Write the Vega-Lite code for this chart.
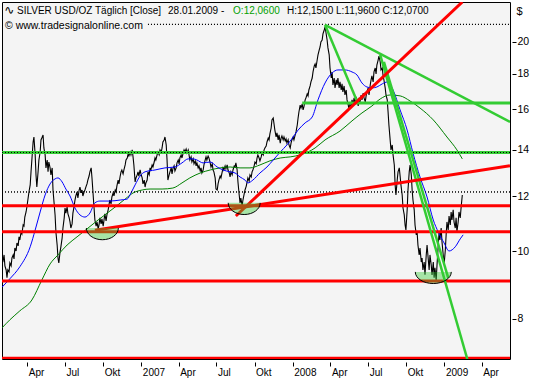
{
"$schema": "https://vega.github.io/schema/vega-lite/v6.json",
"width": 508,
"height": 357,
"autosize": "none",
"padding": {"left": 2, "top": 2, "right": 23, "bottom": 21},
"background": "white",
"config": {
  "view": {"fill": "#f4f4f4", "stroke": "black", "strokeWidth": 1},
  "font": "Liberation Sans"
},
"datasets": {
"price": [
{"d":"2006-01-30","v":9.78},{"d":"2006-02-01","v":9.65},{"d":"2006-02-04","v":9.88},{"d":"2006-02-06","v":9.53},{"d":"2006-02-09","v":9.40},{"d":"2006-02-11","v":9.16},{"d":"2006-02-13","v":9.40},{"d":"2006-02-16","v":9.34},{"d":"2006-02-18","v":9.62},{"d":"2006-02-21","v":9.53},{"d":"2006-02-23","v":9.78},{"d":"2006-02-26","v":9.88},{"d":"2006-02-28","v":9.75},{"d":"2006-03-02","v":10.11},{"d":"2006-03-05","v":10.01},{"d":"2006-03-07","v":10.28},{"d":"2006-03-10","v":10.18},{"d":"2006-03-12","v":10.49},{"d":"2006-03-14","v":10.38},{"d":"2006-03-17","v":10.66},{"d":"2006-03-19","v":10.59},{"d":"2006-03-22","v":10.91},{"d":"2006-03-24","v":10.87},{"d":"2006-03-26","v":11.20},{"d":"2006-03-29","v":11.39},{"d":"2006-03-31","v":11.58},{"d":"2006-04-03","v":11.93},{"d":"2006-04-05","v":12.17},{"d":"2006-04-08","v":12.46},{"d":"2006-04-10","v":13.01},{"d":"2006-04-12","v":13.53},{"d":"2006-04-15","v":14.36},{"d":"2006-04-17","v":14.60},{"d":"2006-04-20","v":13.76},{"d":"2006-04-22","v":12.88},{"d":"2006-04-24","v":12.37},{"d":"2006-04-27","v":13.01},{"d":"2006-04-29","v":13.53},{"d":"2006-05-02","v":13.89},{"d":"2006-05-04","v":14.46},{"d":"2006-05-06","v":14.55},{"d":"2006-05-09","v":14.70},{"d":"2006-05-11","v":14.08},{"d":"2006-05-14","v":13.76},{"d":"2006-05-16","v":13.18},{"d":"2006-05-19","v":13.53},{"d":"2006-05-21","v":13.01},{"d":"2006-05-23","v":13.44},{"d":"2006-05-26","v":13.18},{"d":"2006-05-28","v":12.88},{"d":"2006-05-31","v":13.18},{"d":"2006-06-02","v":12.25},{"d":"2006-06-04","v":11.85},{"d":"2006-06-07","v":11.28},{"d":"2006-06-09","v":10.66},{"d":"2006-06-12","v":10.21},{"d":"2006-06-14","v":9.78},{"d":"2006-06-16","v":9.62},{"d":"2006-06-19","v":9.98},{"d":"2006-06-21","v":10.15},{"d":"2006-06-24","v":10.45},{"d":"2006-06-26","v":10.80},{"d":"2006-06-29","v":11.17},{"d":"2006-07-01","v":11.54},{"d":"2006-07-03","v":11.35},{"d":"2006-07-06","v":11.58},{"d":"2006-07-08","v":11.32},{"d":"2006-07-11","v":11.17},{"d":"2006-07-13","v":11.02},{"d":"2006-07-15","v":10.80},{"d":"2006-07-18","v":10.95},{"d":"2006-07-20","v":11.35},{"d":"2006-07-23","v":11.62},{"d":"2006-07-25","v":11.85},{"d":"2006-07-27","v":12.01},{"d":"2006-07-30","v":12.17},{"d":"2006-08-01","v":11.93},{"d":"2006-08-04","v":12.25},{"d":"2006-08-06","v":12.37},{"d":"2006-08-09","v":12.13},{"d":"2006-08-11","v":12.25},{"d":"2006-08-13","v":12.01},{"d":"2006-08-16","v":12.17},{"d":"2006-08-18","v":12.25},{"d":"2006-08-21","v":12.41},{"d":"2006-08-23","v":12.50},{"d":"2006-08-25","v":12.66},{"d":"2006-08-28","v":12.83},{"d":"2006-08-30","v":13.01},{"d":"2006-09-02","v":13.18},{"d":"2006-09-04","v":12.75},{"d":"2006-09-06","v":12.25},{"d":"2006-09-09","v":11.54},{"d":"2006-09-11","v":11.09},{"d":"2006-09-14","v":10.87},{"d":"2006-09-16","v":11.02},{"d":"2006-09-19","v":10.77},{"d":"2006-09-21","v":10.91},{"d":"2006-09-23","v":11.17},
{"d":"2006-09-26","v":10.95},{"d":"2006-09-28","v":11.13},{"d":"2006-10-01","v":10.87},{"d":"2006-10-03","v":11.09},{"d":"2006-10-05","v":11.32},{"d":"2006-10-08","v":11.06},{"d":"2006-10-10","v":11.28},{"d":"2006-10-13","v":11.47},{"d":"2006-10-15","v":11.66},{"d":"2006-10-17","v":11.85},{"d":"2006-10-20","v":11.70},{"d":"2006-10-22","v":11.97},{"d":"2006-10-25","v":12.13},{"d":"2006-10-27","v":12.01},{"d":"2006-10-30","v":12.25},{"d":"2006-11-01","v":12.17},{"d":"2006-11-03","v":12.41},{"d":"2006-11-06","v":12.66},{"d":"2006-11-08","v":12.50},{"d":"2006-11-11","v":12.83},{"d":"2006-11-13","v":13.01},{"d":"2006-11-15","v":13.09},{"d":"2006-11-18","v":12.92},{"d":"2006-11-20","v":13.09},{"d":"2006-11-23","v":13.31},{"d":"2006-11-25","v":13.53},{"d":"2006-11-28","v":13.62},{"d":"2006-11-30","v":13.80},{"d":"2006-12-02","v":13.71},{"d":"2006-12-05","v":13.89},{"d":"2006-12-07","v":13.76},{"d":"2006-12-10","v":13.99},{"d":"2006-12-12","v":13.67},{"d":"2006-12-14","v":13.31},{"d":"2006-12-17","v":12.58},{"d":"2006-12-19","v":12.75},{"d":"2006-12-22","v":12.88},{"d":"2006-12-24","v":13.01},{"d":"2006-12-26","v":12.83},{"d":"2006-12-29","v":13.09},{"d":"2006-12-31","v":12.92},{"d":"2007-01-03","v":12.75},{"d":"2007-01-05","v":12.50},{"d":"2007-01-08","v":12.66},{"d":"2007-01-10","v":12.37},{"d":"2007-01-12","v":12.54},{"d":"2007-01-15","v":12.66},{"d":"2007-01-17","v":13.01},{"d":"2007-01-20","v":12.88},{"d":"2007-01-22","v":13.18},{"d":"2007-01-24","v":13.09},{"d":"2007-01-27","v":13.31},{"d":"2007-01-29","v":13.22},{"d":"2007-02-01","v":13.44},{"d":"2007-02-03","v":13.62},{"d":"2007-02-05","v":13.53},{"d":"2007-02-08","v":13.76},{"d":"2007-02-10","v":13.89},{"d":"2007-02-13","v":13.76},{"d":"2007-02-15","v":13.99},{"d":"2007-02-18","v":13.89},{"d":"2007-02-20","v":14.08},{"d":"2007-02-22","v":14.36},{"d":"2007-02-25","v":14.46},{"d":"2007-02-27","v":14.60},{"d":"2007-03-02","v":14.22},{"d":"2007-03-04","v":13.53},{"d":"2007-03-06","v":12.66},{"d":"2007-03-09","v":12.88},{"d":"2007-03-11","v":13.01},{"d":"2007-03-14","v":13.18},{"d":"2007-03-16","v":12.92},{"d":"2007-03-18","v":13.14},{"d":"2007-03-21","v":13.27},{"d":"2007-03-23","v":13.05},{"d":"2007-03-26","v":13.18},{"d":"2007-03-28","v":13.40},{"d":"2007-03-31","v":13.53},{"d":"2007-04-02","v":13.36},{"d":"2007-04-04","v":13.62},{"d":"2007-04-07","v":13.76},{"d":"2007-04-09","v":13.62},{"d":"2007-04-12","v":13.85},{"d":"2007-04-14","v":13.99},{"d":"2007-04-16","v":13.89},{"d":"2007-04-19","v":14.03},{"d":"2007-04-21","v":13.85},{"d":"2007-04-24","v":13.99},{"d":"2007-04-26","v":13.76},{"d":"2007-04-28","v":13.53},
{"d":"2007-05-01","v":13.67},{"d":"2007-05-03","v":13.44},{"d":"2007-05-06","v":13.58},{"d":"2007-05-08","v":13.36},{"d":"2007-05-11","v":13.49},{"d":"2007-05-13","v":13.27},{"d":"2007-05-15","v":13.40},{"d":"2007-05-18","v":13.18},{"d":"2007-05-20","v":13.27},{"d":"2007-05-23","v":13.05},{"d":"2007-05-25","v":13.18},{"d":"2007-05-27","v":12.96},{"d":"2007-05-30","v":13.09},{"d":"2007-06-01","v":13.31},{"d":"2007-06-04","v":13.53},{"d":"2007-06-06","v":13.67},{"d":"2007-06-08","v":13.53},{"d":"2007-06-11","v":13.71},{"d":"2007-06-13","v":13.62},{"d":"2007-06-16","v":13.40},{"d":"2007-06-18","v":13.22},{"d":"2007-06-21","v":13.36},{"d":"2007-06-23","v":13.09},{"d":"2007-06-25","v":13.01},{"d":"2007-06-28","v":12.75},{"d":"2007-06-30","v":12.29},{"d":"2007-07-03","v":12.25},{"d":"2007-07-05","v":12.50},{"d":"2007-07-07","v":12.66},{"d":"2007-07-10","v":12.83},{"d":"2007-07-12","v":12.75},{"d":"2007-07-15","v":13.01},{"d":"2007-07-17","v":13.18},{"d":"2007-07-19","v":13.09},{"d":"2007-07-22","v":13.27},{"d":"2007-07-24","v":13.14},{"d":"2007-07-27","v":13.31},{"d":"2007-07-29","v":13.09},{"d":"2007-08-01","v":12.96},{"d":"2007-08-03","v":12.79},{"d":"2007-08-05","v":13.01},{"d":"2007-08-08","v":12.88},{"d":"2007-08-10","v":13.09},{"d":"2007-08-13","v":13.27},{"d":"2007-08-15","v":13.22},{"d":"2007-08-17","v":13.40},{"d":"2007-08-20","v":13.09},{"d":"2007-08-22","v":12.58},{"d":"2007-08-25","v":12.05},{"d":"2007-08-27","v":11.74},{"d":"2007-08-29","v":11.93},{"d":"2007-09-01","v":11.62},{"d":"2007-09-03","v":11.85},{"d":"2007-09-06","v":12.09},{"d":"2007-09-08","v":12.25},{"d":"2007-09-11","v":12.41},{"d":"2007-09-13","v":12.58},{"d":"2007-09-15","v":12.75},{"d":"2007-09-18","v":12.62},{"d":"2007-09-20","v":12.88},{"d":"2007-09-23","v":12.79},{"d":"2007-09-25","v":13.01},{"d":"2007-09-27","v":13.09},{"d":"2007-09-30","v":13.27},{"d":"2007-10-02","v":13.44},{"d":"2007-10-05","v":13.36},{"d":"2007-10-07","v":13.62},{"d":"2007-10-09","v":13.76},{"d":"2007-10-12","v":13.62},{"d":"2007-10-14","v":13.49},{"d":"2007-10-17","v":13.67},{"d":"2007-10-19","v":13.85},{"d":"2007-10-22","v":13.76},{"d":"2007-10-24","v":13.99},{"d":"2007-10-26","v":14.08},{"d":"2007-10-29","v":14.17},{"d":"2007-10-31","v":14.36},{"d":"2007-11-03","v":14.55},{"d":"2007-11-05","v":14.46},{"d":"2007-11-07","v":14.75},{"d":"2007-11-10","v":15.04},{"d":"2007-11-12","v":15.45},{"d":"2007-11-15","v":15.55},{"d":"2007-11-17","v":15.24},{"d":"2007-11-19","v":14.94},{"d":"2007-11-22","v":14.60},{"d":"2007-11-24","v":14.80},{"d":"2007-11-27","v":14.46},{"d":"2007-11-29","v":14.70},{"d":"2007-12-02","v":14.31},{"d":"2007-12-04","v":14.55},{"d":"2007-12-06","v":14.65},{"d":"2007-12-09","v":14.46},{"d":"2007-12-11","v":14.60},{"d":"2007-12-14","v":14.41},{"d":"2007-12-16","v":14.51},{"d":"2007-12-18","v":14.31},{"d":"2007-12-21","v":14.46},{"d":"2007-12-23","v":14.22},{"d":"2007-12-26","v":14.08},
{"d":"2007-12-28","v":14.31},{"d":"2007-12-30","v":14.46},{"d":"2008-01-02","v":14.60},{"d":"2008-01-04","v":14.46},{"d":"2008-01-07","v":14.70},{"d":"2008-01-09","v":14.85},{"d":"2008-01-12","v":15.19},{"d":"2008-01-14","v":15.55},{"d":"2008-01-16","v":15.86},{"d":"2008-01-19","v":16.23},{"d":"2008-01-21","v":16.07},{"d":"2008-01-24","v":16.29},{"d":"2008-01-26","v":15.97},{"d":"2008-01-28","v":16.13},{"d":"2008-01-31","v":16.51},{"d":"2008-02-02","v":16.62},{"d":"2008-02-05","v":16.84},{"d":"2008-02-07","v":16.73},{"d":"2008-02-09","v":17.06},{"d":"2008-02-12","v":17.29},{"d":"2008-02-14","v":17.52},{"d":"2008-02-17","v":17.75},{"d":"2008-02-19","v":18.11},{"d":"2008-02-22","v":18.47},{"d":"2008-02-24","v":18.59},{"d":"2008-02-26","v":18.35},{"d":"2008-02-29","v":18.84},{"d":"2008-03-02","v":19.16},{"d":"2008-03-05","v":19.48},{"d":"2008-03-07","v":19.67},{"d":"2008-03-09","v":20.00},{"d":"2008-03-12","v":20.13},{"d":"2008-03-14","v":20.54},{"d":"2008-03-17","v":20.81},{"d":"2008-03-19","v":21.02},{"d":"2008-03-21","v":20.67},{"d":"2008-03-24","v":20.13},{"d":"2008-03-26","v":19.61},{"d":"2008-03-29","v":19.16},{"d":"2008-03-31","v":18.35},{"d":"2008-04-03","v":17.75},{"d":"2008-04-05","v":18.11},{"d":"2008-04-07","v":17.35},{"d":"2008-04-10","v":17.75},{"d":"2008-04-12","v":17.18},{"d":"2008-04-15","v":17.64},{"d":"2008-04-17","v":17.35},{"d":"2008-04-19","v":17.75},{"d":"2008-04-22","v":17.18},{"d":"2008-04-24","v":17.52},{"d":"2008-04-27","v":17.06},{"d":"2008-04-29","v":17.41},{"d":"2008-05-01","v":16.95},{"d":"2008-05-04","v":17.29},{"d":"2008-05-06","v":16.78},{"d":"2008-05-09","v":17.06},{"d":"2008-05-11","v":16.51},{"d":"2008-05-14","v":16.23},{"d":"2008-05-16","v":15.97},{"d":"2008-05-18","v":16.29},{"d":"2008-05-21","v":16.07},{"d":"2008-05-23","v":16.51},{"d":"2008-05-26","v":16.29},{"d":"2008-05-28","v":16.62},{"d":"2008-05-30","v":16.34},{"d":"2008-06-02","v":16.67},{"d":"2008-06-04","v":16.51},{"d":"2008-06-07","v":16.18},{"d":"2008-06-09","v":16.62},{"d":"2008-06-11","v":16.34},{"d":"2008-06-14","v":16.78},{"d":"2008-06-16","v":16.51},{"d":"2008-06-19","v":16.89},{"d":"2008-06-21","v":16.62},{"d":"2008-06-24","v":16.40},{"d":"2008-06-26","v":16.73},{"d":"2008-06-28","v":16.95},{"d":"2008-07-01","v":17.18},{"d":"2008-07-03","v":16.78},{"d":"2008-07-06","v":17.35},{"d":"2008-07-08","v":17.64},{"d":"2008-07-10","v":17.87},{"d":"2008-07-13","v":17.52},{"d":"2008-07-15","v":18.11},{"d":"2008-07-18","v":18.35},{"d":"2008-07-20","v":17.99},{"d":"2008-07-22","v":18.53},{"d":"2008-07-25","v":18.84},{"d":"2008-07-27","v":19.09},{"d":"2008-07-30","v":18.72},{"d":"2008-08-01","v":18.23},{"d":"2008-08-04","v":18.35},{"d":"2008-08-06","v":17.87},{"d":"2008-08-08","v":17.64},{"d":"2008-08-11","v":17.18},
{"d":"2008-08-13","v":16.78},{"d":"2008-08-16","v":16.51},{"d":"2008-08-18","v":15.86},{"d":"2008-08-20","v":15.19},{"d":"2008-08-23","v":14.46},{"d":"2008-08-25","v":13.99},{"d":"2008-08-28","v":14.22},{"d":"2008-08-30","v":13.76},{"d":"2008-09-02","v":13.31},{"d":"2008-09-04","v":12.46},{"d":"2008-09-06","v":12.05},{"d":"2008-09-09","v":12.66},{"d":"2008-09-11","v":13.01},{"d":"2008-09-14","v":13.18},{"d":"2008-09-16","v":12.83},{"d":"2008-09-18","v":12.46},{"d":"2008-09-21","v":12.05},{"d":"2008-09-23","v":11.54},{"d":"2008-09-26","v":11.28},{"d":"2008-09-28","v":10.91},{"d":"2008-09-30","v":10.73},{"d":"2008-10-03","v":11.47},{"d":"2008-10-05","v":12.25},{"d":"2008-10-08","v":13.01},{"d":"2008-10-10","v":13.31},{"d":"2008-10-13","v":12.88},{"d":"2008-10-15","v":12.25},{"d":"2008-10-17","v":11.85},{"d":"2008-10-20","v":11.47},{"d":"2008-10-22","v":10.91},{"d":"2008-10-25","v":10.56},{"d":"2008-10-27","v":10.66},{"d":"2008-10-29","v":10.21},{"d":"2008-11-01","v":9.88},{"d":"2008-11-03","v":10.11},{"d":"2008-11-06","v":9.65},{"d":"2008-11-08","v":9.78},{"d":"2008-11-10","v":9.40},{"d":"2008-11-13","v":9.65},{"d":"2008-11-15","v":9.25},{"d":"2008-11-18","v":9.88},{"d":"2008-11-20","v":10.21},{"d":"2008-11-23","v":9.72},{"d":"2008-11-25","v":9.40},{"d":"2008-11-27","v":9.88},{"d":"2008-11-30","v":9.56},{"d":"2008-12-02","v":9.25},{"d":"2008-12-05","v":9.65},{"d":"2008-12-07","v":9.16},{"d":"2008-12-09","v":9.47},{"d":"2008-12-12","v":9.09},{"d":"2008-12-14","v":9.56},{"d":"2008-12-17","v":10.21},{"d":"2008-12-19","v":10.66},{"d":"2008-12-21","v":10.38},{"d":"2008-12-24","v":10.80},{"d":"2008-12-26","v":10.32},{"d":"2008-12-29","v":9.88},{"d":"2008-12-31","v":9.56},{"d":"2009-01-03","v":10.04},{"d":"2009-01-05","v":10.56},{"d":"2009-01-07","v":11.02},{"d":"2009-01-10","v":10.73},{"d":"2009-01-12","v":11.24},{"d":"2009-01-15","v":10.91},{"d":"2009-01-17","v":11.39},{"d":"2009-01-19","v":11.09},{"d":"2009-01-22","v":11.47},{"d":"2009-01-24","v":11.02},{"d":"2009-01-27","v":10.80},{"d":"2009-01-29","v":11.17},{"d":"2009-01-31","v":10.66},{"d":"2009-02-03","v":11.02},{"d":"2009-02-05","v":11.39},{"d":"2009-02-08","v":11.17},{"d":"2009-02-10","v":11.54},{"d":"2009-02-13","v":12.05}
],
"ma_fast": [
{"d":"2006-01-30","v":8.88},{"d":"2006-02-18","v":9.13},{"d":"2006-03-14","v":9.50},{"d":"2006-04-08","v":10.15},{"d":"2006-04-20","v":10.73},{"d":"2006-05-02","v":11.39},{"d":"2006-05-14","v":12.05},{"d":"2006-05-26","v":12.50},{"d":"2006-06-07","v":12.71},{"d":"2006-06-14","v":12.75},{"d":"2006-06-24","v":12.58},{"d":"2006-07-03","v":12.29},{"d":"2006-07-13","v":12.01},{"d":"2006-07-25","v":11.54},{"d":"2006-08-06","v":11.28},{"d":"2006-08-18","v":11.20},{"d":"2006-08-30","v":11.35},{"d":"2006-09-11","v":11.74},{"d":"2006-09-23","v":11.81},{"d":"2006-10-17","v":11.81},{"d":"2006-11-11","v":11.85},{"d":"2006-11-28","v":11.89},{"d":"2006-12-07","v":12.13},{"d":"2006-12-17","v":12.46},{"d":"2006-12-29","v":12.83},{"d":"2007-01-10","v":13.01},{"d":"2007-02-03","v":13.09},{"d":"2007-02-27","v":13.18},{"d":"2007-03-23","v":13.22},{"d":"2007-04-09","v":13.40},{"d":"2007-04-24","v":13.58},{"d":"2007-05-06","v":13.58},{"d":"2007-05-15","v":13.53},{"d":"2007-05-30","v":13.40},{"d":"2007-06-16","v":13.44},{"d":"2007-07-03","v":13.22},{"d":"2007-07-17","v":13.09},{"d":"2007-08-03","v":13.01},{"d":"2007-08-15","v":12.96},{"d":"2007-08-27","v":12.79},{"d":"2007-09-08","v":12.66},{"d":"2007-09-15","v":12.54},{"d":"2007-09-27","v":12.66},{"d":"2007-10-14","v":12.96},{"d":"2007-10-31","v":13.22},{"d":"2007-11-15","v":13.53},{"d":"2007-12-02","v":13.89},{"d":"2007-12-18","v":14.22},{"d":"2007-12-30","v":14.51},{"d":"2008-01-14","v":14.94},{"d":"2008-01-31","v":15.30},{"d":"2008-02-17","v":15.60},{"d":"2008-03-02","v":16.51},{"d":"2008-03-19","v":17.46},{"d":"2008-04-05","v":18.05},{"d":"2008-04-19","v":18.23},{"d":"2008-05-06","v":18.23},{"d":"2008-05-23","v":18.11},{"d":"2008-06-04","v":17.93},{"d":"2008-06-16","v":17.46},{"d":"2008-06-28","v":17.23},{"d":"2008-07-10","v":17.18},{"d":"2008-07-22","v":17.23},{"d":"2008-08-04","v":17.41},{"d":"2008-08-16","v":17.52},{"d":"2008-08-30","v":17.06},{"d":"2008-09-16","v":15.97},{"d":"2008-10-03","v":14.94},{"d":"2008-10-17","v":13.85},{"d":"2008-11-03","v":12.79},{"d":"2008-11-20","v":11.97},{"d":"2008-12-05","v":11.09},{"d":"2008-12-17","v":10.66},{"d":"2008-12-31","v":10.28},{"d":"2009-01-12","v":10.01},{"d":"2009-01-27","v":10.15},{"d":"2009-02-08","v":10.42},{"d":"2009-02-15","v":10.56}
],
"ma_slow": [
{"d":"2006-01-30","v":7.76},{"d":"2006-02-18","v":7.97},{"d":"2006-03-14","v":8.21},{"d":"2006-04-12","v":8.51},{"d":"2006-05-06","v":9.09},{"d":"2006-05-26","v":9.59},{"d":"2006-06-14","v":9.88},{"d":"2006-07-06","v":10.21},{"d":"2006-07-30","v":10.49},{"d":"2006-08-23","v":10.77},{"d":"2006-09-16","v":11.06},{"d":"2006-10-05","v":11.28},{"d":"2006-10-30","v":11.58},{"d":"2006-11-23","v":11.89},{"d":"2006-12-12","v":12.13},{"d":"2007-01-03","v":12.25},{"d":"2007-01-22","v":12.29},{"d":"2007-02-20","v":12.29},{"d":"2007-03-18","v":12.33},{"d":"2007-04-09","v":12.54},{"d":"2007-04-28","v":12.75},{"d":"2007-05-23","v":12.96},{"d":"2007-06-16","v":13.09},{"d":"2007-07-10","v":13.18},{"d":"2007-08-03","v":13.22},{"d":"2007-08-27","v":13.18},{"d":"2007-09-20","v":13.18},{"d":"2007-10-14","v":13.31},{"d":"2007-11-07","v":13.49},{"d":"2007-12-02","v":13.62},{"d":"2007-12-26","v":13.67},{"d":"2008-01-19","v":13.76},{"d":"2008-02-24","v":14.08},{"d":"2008-03-19","v":14.46},{"d":"2008-04-24","v":14.89},{"d":"2008-05-23","v":15.40},{"d":"2008-06-16","v":15.81},{"d":"2008-07-10","v":16.18},{"d":"2008-07-30","v":16.56},{"d":"2008-08-23","v":16.78},{"d":"2008-09-16","v":16.73},{"d":"2008-10-10","v":16.45},{"d":"2008-11-03","v":16.07},{"d":"2008-12-05","v":15.45},{"d":"2009-01-07","v":14.60},{"d":"2009-01-31","v":13.99},{"d":"2009-02-13","v":13.58}
],
"dotted": [
{"d":"2007-01-17","v":21.2,"d2":"2009-06-08","v2":21.2},
{"d":"2006-01-30","v":12.17,"d2":"2009-06-08","v2":12.17},
{"d":"2006-01-30","v":13.87,"d2":"2009-06-08","v2":13.87}
],
"green_levels": [
{"d":"2006-01-30","v":13.87,"d2":"2009-06-08","v2":13.87},
{"d":"2008-01-24","v":16.34,"d2":"2009-06-08","v2":16.34}
],
"red_levels": [
{"d":"2006-01-30","v":11.63,"d2":"2009-06-08","v2":11.63},
{"d":"2006-01-30","v":10.67,"d2":"2009-06-08","v2":10.67},
{"d":"2006-01-30","v":9.06,"d2":"2009-06-08","v2":9.06},
{"d":"2006-01-30","v":7.02,"d2":"2009-06-08","v2":7.02}
],
"green_trends": [
{"d":"2008-03-19","v":21.16,"d2":"2009-06-08","v2":15.35},
{"d":"2008-03-19","v":21.16,"d2":"2008-06-07","v2":16.29},
{"d":"2008-07-30","v":19.16,"d2":"2009-02-25","v2":7.0},
{"d":"2008-08-08","v":18.72,"d2":"2009-01-10","v2":9.16}
],
"red_trends": [
{"d":"2006-09-11","v":10.72,"d2":"2009-06-08","v2":13.27},
{"d":"2007-08-17","v":11.24,"d2":"2009-02-13","v2":22.83}
],
"bowls": [
{"d":"2006-09-29","v":10.80},
{"d":"2007-09-06","v":11.74}
],
"bowl_big": [
{"d":"2008-12-05","v":9.34}
],
"texts": [
{"d":"2006-03-07T05:00","v":21.94,"label":"SILVER USD/OZ Täglich [Close]"},
{"d":"2007-03-06T10:00","v":21.94,"label":"28.01.2009 -"},
{"d":"2007-12-18T10:00","v":21.94,"label":"H:12,1500 L:11,9600 C:12,0700"}
],
"texts_green": [
{"d":"2007-08-10T05:00","v":21.94,"label":"O:12,0600"}
],
"copyright": [
{"d":"2006-02-06T05:00","v":20.88,"label":"© www.tradesignalonline.com"}
],
"icon": [
{"d":"2006-02-04T05:00","v":21.94,"label":"∿"}
]
},
"encoding": {
  "x": {
    "field": "d", "type": "temporal",
    "scale": {"domain": [{"year": 2006, "month": 1, "date": 30, "utc": true}, {"year": 2009, "month": 6, "date": 8, "utc": true}], "nice": false},
    "axis": {
      "orient": "bottom",
      "values": [
        {"year": 2006, "month": 4, "date": 1, "utc": true},
        {"year": 2006, "month": 7, "date": 1, "utc": true},
        {"year": 2006, "month": 10, "date": 1, "utc": true},
        {"year": 2007, "month": 1, "date": 1, "utc": true},
        {"year": 2007, "month": 4, "date": 1, "utc": true},
        {"year": 2007, "month": 7, "date": 1, "utc": true},
        {"year": 2007, "month": 10, "date": 1, "utc": true},
        {"year": 2008, "month": 1, "date": 1, "utc": true},
        {"year": 2008, "month": 4, "date": 1, "utc": true},
        {"year": 2008, "month": 7, "date": 1, "utc": true},
        {"year": 2008, "month": 10, "date": 1, "utc": true},
        {"year": 2009, "month": 1, "date": 1, "utc": true},
        {"year": 2009, "month": 4, "date": 1, "utc": true}
      ],
      "labelExpr": "utcmonth(datum.value) == 0 ? utcFormat(datum.value, '%Y') : (utcmonth(datum.value) == 3 ? 'Apr' : (utcmonth(datum.value) == 6 ? 'Jul' : 'Okt'))",
      "grid": false, "domain": false,
      "tickSize": 4, "tickColor": "black", "tickWidth": 1, "offset": 3,
      "labelAlign": "left", "labelBaseline": "top", "labelPadding": 1, "labelOffset": 1,
      "labelFont": "Liberation Sans", "labelFontSize": 10, "labelColor": "black",
      "labelFlush": false, "labelOverlap": false, "title": null
    }
  },
  "y": {
    "field": "v", "type": "quantitative",
    "scale": {"type": "log", "domain": [7.0, 22.83], "nice": false, "zero": false},
    "axis": {
      "orient": "right",
      "values": [8, 10, 12, 14, 16, 18, 20],
      "format": "d",
      "grid": false, "domain": false,
      "tickSize": 4, "tickColor": "black", "tickWidth": 1, "offset": 2,
      "labelPadding": 1, "labelAlign": "left", "labelBaseline": "middle",
      "labelFont": "Liberation Sans", "labelFontSize": 10.5, "labelColor": "black",
      "title": "$", "titleAngle": 0, "titleX": 4, "titleY": 12,
      "titleAlign": "left", "titleBaseline": "alphabetic",
      "titleFont": "Liberation Sans", "titleFontSize": 11, "titleFontWeight": "normal", "titleColor": "black"
    }
  }
},
"layer": [
  {"data": {"name": "dotted"}, "mark": {"type": "rule", "color": "black", "strokeWidth": 1, "strokeDash": [1, 2], "clip": true},
   "encoding": {"x2": {"field": "d2"}, "y2": {"field": "v2"}}},
  {"data": {"name": "price"}, "mark": {"type": "line", "color": "black", "strokeWidth": 1.1, "clip": true}},
  {"data": {"name": "ma_slow"}, "mark": {"type": "line", "color": "#008000", "strokeWidth": 1, "interpolate": "monotone", "clip": true}},
  {"data": {"name": "ma_fast"}, "mark": {"type": "line", "color": "#0000ff", "strokeWidth": 1, "interpolate": "monotone", "clip": true}},
  {"data": {"name": "green_levels"}, "mark": {"type": "rule", "color": "#33cc33", "strokeWidth": 3, "clip": true},
   "encoding": {"x2": {"field": "d2"}, "y2": {"field": "v2"}}},
  {"data": {"name": "dotted"}, "mark": {"type": "rule", "color": "black", "strokeWidth": 1, "strokeDash": [1, 2], "clip": true},
   "encoding": {"x2": {"field": "d2"}, "y2": {"field": "v2"}}},
  {"data": {"name": "red_levels"}, "mark": {"type": "rule", "color": "#ff0000", "strokeWidth": 3, "clip": true},
   "encoding": {"x2": {"field": "d2"}, "y2": {"field": "v2"}}},
  {"data": {"name": "green_trends"}, "mark": {"type": "rule", "color": "#33cc33", "strokeWidth": 2.5, "clip": true},
   "encoding": {"x2": {"field": "d2"}, "y2": {"field": "v2"}}},
  {"data": {"name": "red_trends"}, "mark": {"type": "rule", "color": "#ff0000", "strokeWidth": 3, "clip": true},
   "encoding": {"x2": {"field": "d2"}, "y2": {"field": "v2"}}},
  {"data": {"name": "bowls"}, "mark": {"type": "point", "shape": "M-1,0 A1,0.73 0 0,0 1,0", "size": 1024, "filled": true, "fill": "#32cd32", "fillOpacity": 0.4, "stroke": "black", "strokeWidth": 1, "opacity": 1}},
  {"data": {"name": "bowl_big"}, "mark": {"type": "point", "shape": "M-1,0 A1,0.645 0 0,0 1,0", "size": 1296, "filled": true, "fill": "#32cd32", "fillOpacity": 0.4, "stroke": "black", "strokeWidth": 1, "opacity": 1}},
  {"data": {"name": "texts"}, "mark": {"type": "text", "align": "left", "baseline": "alphabetic", "font": "Liberation Sans", "fontSize": 10, "color": "black"},
   "encoding": {"text": {"field": "label"}}},
  {"data": {"name": "texts_green"}, "mark": {"type": "text", "align": "left", "baseline": "alphabetic", "font": "Liberation Sans", "fontSize": 10, "color": "#00a000"},
   "encoding": {"text": {"field": "label"}}},
  {"data": {"name": "copyright"}, "mark": {"type": "text", "align": "left", "baseline": "alphabetic", "font": "Liberation Sans", "fontSize": 10.5, "color": "black"},
   "encoding": {"text": {"field": "label"}}},
  {"data": {"name": "icon"}, "mark": {"type": "text", "align": "left", "baseline": "alphabetic", "font": "DejaVu Sans", "fontSize": 12, "color": "black"},
   "encoding": {"text": {"field": "label"}}}
]
}
